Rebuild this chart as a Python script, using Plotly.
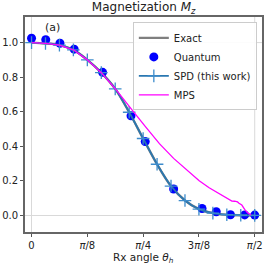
import plotly.graph_objects as go

# ---- data ----
spd_theta = [0.0, 0.0982, 0.1963, 0.2945, 0.3927, 0.4909, 0.5890, 0.6872, 0.7854,
             0.8836, 0.9817, 1.0799, 1.1781, 1.2763, 1.3744, 1.4726, 1.5708]
spd_mz = [1.0, 0.995, 0.985, 0.958, 0.900, 0.826, 0.732, 0.597, 0.445,
          0.296, 0.170, 0.086, 0.036, 0.013, 0.004, 0.001, 0.0]

exact_theta = spd_theta
exact_mz = [1.0, 0.995, 0.985, 0.958, 0.900, 0.826, 0.732, 0.597, 0.445,
            0.296, 0.170, 0.086, 0.036, 0.013, 0.004, 0.001, 0.0]

quantum_theta = [0.0, 0.1, 0.2, 0.3, 0.5, 0.7, 0.8, 1.0, 1.2, 1.3, 1.4, 1.5, 1.5708]
quantum_mz = [1.025, 1.017, 0.996, 0.962, 0.828, 0.576, 0.427, 0.153, 0.040, 0.021, 0.004, 0.003, 0.002]

mps_theta = [0.0, 0.0982, 0.1963, 0.2945, 0.3927, 0.4909, 0.5890, 0.65, 0.717, 0.8, 0.9,
             1.0, 1.08, 1.18, 1.25, 1.3, 1.395, 1.41, 1.43, 1.45, 1.46, 1.48, 1.5, 1.52, 1.545]
mps_mz = [1.0, 0.995, 0.985, 0.958, 0.900, 0.826, 0.733, 0.672, 0.600, 0.515, 0.415,
          0.330, 0.270, 0.200, 0.160, 0.135, 0.092, 0.083, 0.082, 0.078, 0.070, 0.060, 0.035, 0.015, 0.003]

xtick_vals = [0, 0.3927, 0.7854, 1.1781, 1.5708]
xtick_text = ["0", "<i>π</i>/8", "<i>π</i>/4", "3<i>π</i>/8", "<i>π</i>/2"]
ytick_vals = [0.0, 0.2, 0.4, 0.6, 0.8, 1.0]

FONT = "DejaVu Sans"

fig = go.Figure()
fig.add_trace(go.Scatter(x=exact_theta, y=exact_mz, mode="lines", name="Exact",
                         line=dict(color="#7f7f7f", width=2.4, shape="spline")))
fig.add_trace(go.Scatter(x=quantum_theta, y=quantum_mz, mode="markers", name="Quantum",
                         marker=dict(color="#0000ff", size=9, symbol="circle")))
fig.add_trace(go.Scatter(x=spd_theta, y=spd_mz, mode="lines+markers", name="SPD (this work)",
                         line=dict(color="#2a77b0", width=1.8, shape="spline"),
                         marker=dict(symbol="cross-thin", size=9,
                                     line=dict(color="#3d8ccc", width=1.3))))
fig.add_trace(go.Scatter(x=mps_theta, y=mps_mz, mode="lines", name="MPS",
                         line=dict(color="#ff00ff", width=1.3)))

fig.add_hline(y=1.0, line=dict(color="#d9d9d9", width=1), layer="below")
fig.add_vline(x=1.5708, line=dict(color="#d9d9d9", width=1), layer="below")

fig.add_annotation(x=0.147, y=1.085, xref="x", yref="y", text="(a)", showarrow=False,
                   font=dict(family=FONT, size=11, color="#222"))
fig.add_annotation(x=0.5, y=-0.084, xref="paper", yref="paper", yanchor="top",
                   borderpad=0,
                   text="Rx angle <i>θ<sub>h</sub></i>", showarrow=False,
                   font=dict(family=FONT, size=10.5, color="#222"))

fig.update_layout(
    width=266, height=265,
    margin=dict(l=25, r=4, t=17, b=33),
    paper_bgcolor="white", plot_bgcolor="white",
    font=dict(family=FONT, size=10, color="#222"),
    title=dict(text="Magnetization <i>M<sub>z</sub></i>", x=0.54, xanchor="center",
               y=0.99, yanchor="top", font=dict(family=FONT, size=12, color="#222")),
    showlegend=True,
    hovermode=False,
    legend=dict(x=0.455, y=0.975, xanchor="left", yanchor="top",
                bgcolor="rgba(255,255,255,0.9)", bordercolor="#cccccc", borderwidth=1,
                font=dict(family=FONT, size=10, color="#222"),
                tracegroupgap=0, itemwidth=30),
)
fig.update_xaxes(range=[-0.046, 1.622], tickvals=xtick_vals, ticktext=xtick_text,
                 showgrid=False, zeroline=True, zerolinecolor="#d9d9d9", zerolinewidth=1,
                 showline=True, linecolor="#666666", linewidth=1.8, mirror=True,
                 ticks="outside", ticklen=3, tickcolor="#555", automargin=False)
fig.update_yaxes(range=[-0.096, 1.148], tickvals=ytick_vals, tickformat=".1f",
                 showgrid=False, zeroline=True, zerolinecolor="#d9d9d9", zerolinewidth=1,
                 showline=True, linecolor="#666666", linewidth=1.8, mirror=True,
                 ticks="outside", ticklen=3, tickcolor="#555", automargin=False)

fig.write_html("out.html", config={"displayModeBar": False},
               post_script="document.body.style.margin='0';document.body.style.overflow='hidden';")
